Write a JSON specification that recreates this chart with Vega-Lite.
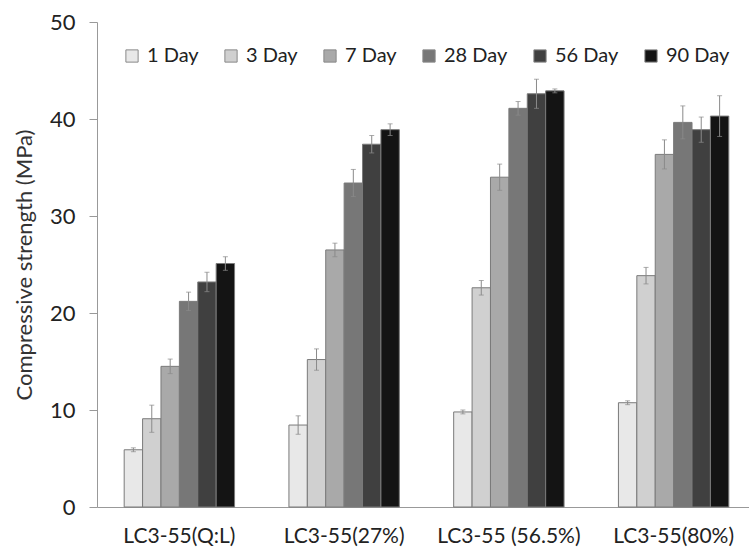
{
  "$schema": "https://vega.github.io/schema/vega-lite/v6.json",
  "autosize": {"type": "none"},
  "padding": {"left": 97, "top": 22, "right": 0, "bottom": 49},
  "width": 659,
  "height": 485,
  "background": "white",
  "config": {
    "view": {"stroke": null},
    "font": "Lato",
    "axis": {"domainColor": "#999", "tickColor": "#999", "labelColor": "#222", "titleColor": "#333", "grid": false}
  },
  "data": {
    "values": [
      {"mix": "LC3-55(Q:L)", "age": "1 Day", "strength": 5.9, "err": 0.2},
      {"mix": "LC3-55(Q:L)", "age": "3 Day", "strength": 9.1, "err": 1.4},
      {"mix": "LC3-55(Q:L)", "age": "7 Day", "strength": 14.5, "err": 0.75},
      {"mix": "LC3-55(Q:L)", "age": "28 Day", "strength": 21.2, "err": 0.95},
      {"mix": "LC3-55(Q:L)", "age": "56 Day", "strength": 23.2, "err": 1.0},
      {"mix": "LC3-55(Q:L)", "age": "90 Day", "strength": 25.1, "err": 0.7},
      {"mix": "LC3-55(27%)", "age": "1 Day", "strength": 8.45, "err": 0.95},
      {"mix": "LC3-55(27%)", "age": "3 Day", "strength": 15.2, "err": 1.1},
      {"mix": "LC3-55(27%)", "age": "7 Day", "strength": 26.5, "err": 0.7},
      {"mix": "LC3-55(27%)", "age": "28 Day", "strength": 33.4, "err": 1.4},
      {"mix": "LC3-55(27%)", "age": "56 Day", "strength": 37.4, "err": 0.9},
      {"mix": "LC3-55(27%)", "age": "90 Day", "strength": 38.9, "err": 0.6},
      {"mix": "LC3-55 (56.5%)", "age": "1 Day", "strength": 9.8, "err": 0.2},
      {"mix": "LC3-55 (56.5%)", "age": "3 Day", "strength": 22.6, "err": 0.75},
      {"mix": "LC3-55 (56.5%)", "age": "7 Day", "strength": 34.0, "err": 1.35},
      {"mix": "LC3-55 (56.5%)", "age": "28 Day", "strength": 41.1, "err": 0.7},
      {"mix": "LC3-55 (56.5%)", "age": "56 Day", "strength": 42.6, "err": 1.5},
      {"mix": "LC3-55 (56.5%)", "age": "90 Day", "strength": 42.9, "err": 0.2},
      {"mix": "LC3-55(80%)", "age": "1 Day", "strength": 10.75, "err": 0.2},
      {"mix": "LC3-55(80%)", "age": "3 Day", "strength": 23.85, "err": 0.85},
      {"mix": "LC3-55(80%)", "age": "7 Day", "strength": 36.35, "err": 1.5},
      {"mix": "LC3-55(80%)", "age": "28 Day", "strength": 39.65, "err": 1.7},
      {"mix": "LC3-55(80%)", "age": "56 Day", "strength": 38.9, "err": 1.3},
      {"mix": "LC3-55(80%)", "age": "90 Day", "strength": 40.3, "err": 2.1}
    ]
  },
  "encoding": {
    "x": {
      "field": "mix", "type": "nominal",
      "sort": ["LC3-55(Q:L)", "LC3-55(27%)", "LC3-55 (56.5%)", "LC3-55(80%)"],
      "scale": {"paddingInner": 0.33, "paddingOuter": 0.165},
      "axis": {"title": null, "labelAngle": 0, "ticks": false, "labelFontSize": 21, "labelPadding": 18, "labelColor": "#222"}
    },
    "xOffset": {
      "field": "age", "type": "nominal",
      "sort": ["1 Day", "3 Day", "7 Day", "28 Day", "56 Day", "90 Day"],
      "scale": {"paddingInner": 0, "paddingOuter": 0}
    },
    "y": {
      "field": "strength", "type": "quantitative",
      "scale": {"domain": [0, 50], "nice": false},
      "axis": {"title": "Compressive strength (MPa)", "titleFontSize": 22, "titleFontWeight": "normal", "titlePadding": 13, "values": [0, 10, 20, 30, 40, 50], "labelOverlap": false, "labelFontSize": 22, "tickSize": 8, "labelPadding": 14}
    }
  },
  "layer": [
    {
      "mark": {"type": "bar", "stroke": "#7a7a7a", "strokeWidth": 1},
      "encoding": {
        "color": {
          "field": "age", "type": "nominal",
          "sort": ["1 Day", "3 Day", "7 Day", "28 Day", "56 Day", "90 Day"],
          "scale": {"domain": ["1 Day", "3 Day", "7 Day", "28 Day", "56 Day", "90 Day"], "range": ["#e8e8e8", "#d0d0d0", "#a9a9a9", "#777777", "#404040", "#141414"]},
          "legend": {
            "title": null, "orient": "none", "direction": "horizontal",
            "legendX": 25, "legendY": 24,
            "symbolType": "square", "symbolSize": 150, "symbolStrokeColor": "#888", "symbolStrokeWidth": 1,
            "labelFontSize": 20, "labelColor": "#222", "columnPadding": 22, "labelOffset": 5
          }
        }
      }
    },
    {
      "mark": {"type": "errorbar", "ticks": {"size": 5, "color": "#8a8a8a"}, "rule": {"color": "#8a8a8a", "strokeWidth": 1}},
      "encoding": {
        "y": {"field": "strength", "type": "quantitative", "title": "Compressive strength (MPa)"},
        "yError": {"field": "err"}
      }
    }
  ]
}
